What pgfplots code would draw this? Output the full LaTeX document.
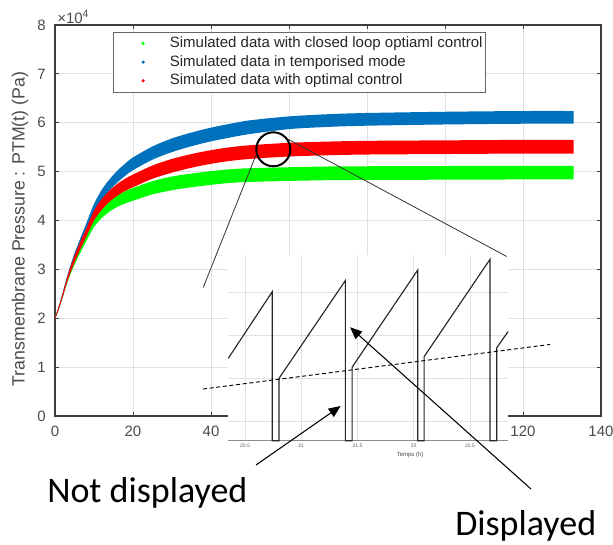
\documentclass[border=0pt]{standalone}
\usepackage{fontspec}
\setmainfont{Liberation Sans}
\newfontfamily\calibri{Carlito}
\usepackage{pgfplots}
\pgfplotsset{compat=1.18}
\usepackage{pgfplotstable}
\usepgfplotslibrary{fillbetween}
\usetikzlibrary{arrows.meta}

\definecolor{mblue}{RGB}{0,114,189}
\definecolor{mred}{RGB}{255,0,0}
\definecolor{mgreen}{RGB}{0,255,0}
\definecolor{axgray}{RGB}{60,60,60}
\definecolor{txtgray}{RGB}{75,75,75}
\definecolor{gridgray}{RGB}{224,224,224}

% x  red-low red-up blue-low blue-up green-low green-up  (Pa)
\pgfplotstableread{
x rl ru bl bu gl gu
0 19800 20200 19800 20200 19800 20200
1 21900 22500 21900 22500 21900 22500
2 24400 25200 24500 25300 24300 25100
3 27100 28100 27300 28300 26900 27900
4 29400 30600 29700 30900 29100 30300
5 31400 32800 31900 33300 30900 32300
6 33250 34750 33850 35350 32650 34150
7 35000 36600 35800 37400 34200 35800
8 36650 38350 37650 39350 35750 37450
10 40000 42000 41400 43400 38700 40700
12 42200 44400 44100 46300 40500 42700
14 43850 46150 46150 48450 41850 44150
16 45100 47500 47800 50200 42800 45200
18 46050 48550 49150 51650 43500 46000
20 46800 49400 50300 52900 44050 46650
25 48550 51250 52450 55150 45350 48050
30 49800 52600 54000 56800 46200 49000
35 50800 53600 55200 58000 46800 49600
40 51600 54400 56200 59000 47300 50100
45 52200 55000 57000 59800 47700 50500
50 52600 55400 57700 60500 47900 50700
60 53100 55900 58700 61300 48100 50900
70 53350 56150 59150 61750 48250 51050
80 53500 56300 59400 62000 48300 51100
100 53600 56400 59650 62250 48350 51150
120 53700 56500 59800 62400 48400 51200
133 53700 56500 59800 62400 48400 51200
}\bands

% zoomed sawtooth (time in h, pressure in Pa)
\pgfplotstableread{
t p
20.352 54737
20.743 55512
20.743 53779
20.803 53779
20.803 54505
21.392 55640
21.392 53779
21.452 53779
21.452 54633
22.036 55764
22.036 53779
22.092 53779
22.092 54756
22.678 55888
22.678 53779
22.738 53779
22.738 54860
22.838 55047
}\saw

\pgfplotstableread{
t p
20.127 54380
23.212 54898
}\trend

\begin{document}
\begin{tikzpicture}
\path (0,0) rectangle (459.75pt,-408pt);

\begin{axis}[
  at={(41.25pt,-312pt)}, anchor=south west,
  scale only axis, width=409.5pt, height=293.25pt,
  xmin=0, xmax=140, ymin=0, ymax=80000,
  scaled y ticks=false, scaled x ticks=false,
  xtick={0,20,...,140},
  ytick={0,10000,...,80000}, yticklabels={0,1,2,3,4,5,6,7,8},
  grid=major, major grid style={gridgray, line width=0.6pt},
  axis line style={axgray, line width=0.8pt},
  tick style={axgray, line width=0.6pt}, tick align=inside, major tick length=3pt,
  /pgf/number format/assume math mode=true,
  ticklabel style={font=\fontsize{11.25}{13}\selectfont, text=txtgray},
  yticklabel style={xshift=-3.5pt},
  xticklabel style={yshift=-4pt},
  ylabel={Transmembrane Pressure : PTM(t) (Pa)},
  ylabel style={font=\fontsize{13.3}{15}\selectfont, text=txtgray,
    at={(axis description cs:-0.0641,0.478)}, anchor=center},
  legend style={at={(0.1057,0.983)}, anchor=north west, draw=black!60, line width=0.7pt,
    fill=white, inner xsep=0pt, inner ysep=1.5pt, row sep=0pt,
    font=\fontsize{11.25}{14}\selectfont, text=black!85,
    nodes={text height=8.5pt, text depth=2.5pt, inner ysep=1.5pt}},
  legend cell align=left,
  legend image code/.code={\path[draw=none,fill=none] (0pt,0pt) -- (40.5pt,0pt); \fill[#1] (22.5pt,0pt) circle (1.3pt);},
]
\addplot[draw=none, smooth, name path=gl, forget plot] table[x=x,y=gl]{\bands};
\addplot[draw=none, smooth, name path=gu, forget plot] table[x=x,y=gu]{\bands};
\addplot[fill=mgreen, draw=none, forget plot] fill between[of=gl and gu];
\addplot[draw=none, smooth, name path=bl, forget plot] table[x=x,y=bl]{\bands};
\addplot[draw=none, smooth, name path=bu, forget plot] table[x=x,y=bu]{\bands};
\addplot[fill=mblue, draw=none, forget plot] fill between[of=bl and bu];
\addplot[draw=none, smooth, name path=rl, forget plot] table[x=x,y=rl]{\bands};
\addplot[draw=none, smooth, name path=ru, forget plot] table[x=x,y=ru]{\bands};
\addplot[fill=mred, draw=none, forget plot] fill between[of=rl and ru];
\addlegendimage{fill=mgreen, draw=none}
\addlegendentry{Simulated data with closed loop optiaml control}
\addlegendimage{fill=mblue, draw=none}
\addlegendentry{Simulated data in temporised mode}
\addlegendimage{fill=mred, draw=none}
\addlegendentry{Simulated data with optimal control}
\end{axis}

\node[anchor=base west, inner sep=0pt, font=\fontsize{11.25}{13}\selectfont, text=txtgray]
  at (42.75pt,-17.25pt) {×10\textsuperscript{4}};

\begin{axis}[
  at={(171.225pt,-330.525pt)}, anchor=south west,
  scale only axis, width=209.8pt, height=139.3pt,
  xmin=20.352, xmax=22.838, ymin=53779, ymax=55938,
  scaled y ticks=false, scaled x ticks=false,
  clip=false,
  axis background/.style={fill=white},
  axis line style={draw=none},
  xtick={20.5,21,21.5,22,22.5},
  xticklabels={20.5,21,21.5,22,22.5},
  ytick={54000,54500,55000,55500}, yticklabels={},
  major tick length=0pt,
  grid=major, major grid style={gridgray, line width=0.5pt},
  xticklabel style={font=\fontsize{3.8}{4}\selectfont, text=black!65, yshift=1pt},
  xlabel={Temps (h)},
  xlabel style={font=\fontsize{4.5}{5}\selectfont, text=black!70,
    at={(axis description cs:0.65,0)}, anchor=north, yshift=-5pt},
]
\draw[black!45, line width=0.8pt] (rel axis cs:0,0) -- (rel axis cs:1,0);
\addplot[black!85, line width=0.85pt] table[x=t,y=p]{\saw};
\addplot[black, line width=0.7pt, dash pattern=on 3pt off 2pt] table[x=t,y=p]{\trend};
\end{axis}

\begin{scope}[x=0.75pt, y=-0.75pt]
\draw[black, line width=1.5pt] (273.3,149.3) circle [radius=12.75pt];
\draw[black!80, line width=0.6pt] (256,155) -- (203.3,287.3);
\draw[black!80, line width=0.6pt] (288.3,139.3) -- (506.7,256.5);
\draw[black, line width=0.8pt, -{Triangle[length=9pt,width=7.5pt]}] (256,465) -- (340.7,406);
\draw[black, line width=0.8pt, -{Triangle[length=9pt,width=7.5pt]}] (531,489) -- (350,327.3);
\node[anchor=base west, inner sep=0pt, font=\calibri\fontsize{27}{30}\selectfont] at (47,502) {Not displayed};
\node[anchor=base west, inner sep=0pt, font=\calibri\fontsize{27}{30}\selectfont] at (455,535) {Displayed};
\end{scope}
\pgfresetboundingbox
\path (0,0) rectangle (459.75pt,-408pt);
\end{tikzpicture}
\end{document}
